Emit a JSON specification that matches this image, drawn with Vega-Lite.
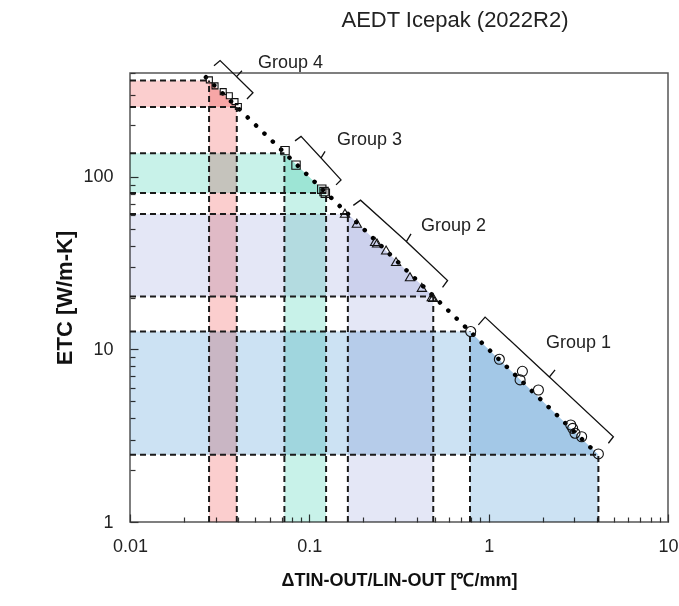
{
  "$schema": "https://vega.github.io/schema/vega-lite/v6.json",
  "width": 538,
  "height": 449,
  "autosize": "none",
  "padding": {"left": 130, "top": 73, "right": 11, "bottom": 84},
  "background": "white",
  "title": {"text": "AEDT Icepak (2022R2)", "fontSize": 22, "fontWeight": "normal", "color": "#222", "anchor": "middle", "dx": 56, "offset": 22},
  "config": {
    "font": "Liberation Sans",
    "view": {"stroke": "#555", "strokeWidth": 1.5},
    "axis": {"grid": false, "domain": false, "tickColor": "#333", "tickWidth": 1.2, "labelColor": "#222", "labelFontSize": 18, "labelFlush": false, "titleColor": "#111", "titleFontWeight": "bold", "zindex": 1}
  },
  "datasets": {
    "hbands": [
      {"group": "4", "y": 254, "x": 0.01, "x2": 0.0394},
      {"group": "4", "y": 362, "x": 0.01, "x2": 0.0276},
      {"group": "3", "y": 80.6, "x": 0.01, "x2": 0.124},
      {"group": "3", "y": 137, "x": 0.01, "x2": 0.0726},
      {"group": "2", "y": 20.3, "x": 0.01, "x2": 0.491},
      {"group": "2", "y": 61, "x": 0.01, "x2": 0.164},
      {"group": "1", "y": 2.45, "x": 0.01, "x2": 4.09},
      {"group": "1", "y": 12.7, "x": 0.01, "x2": 0.787}
    ],
    "vbands": [
      {"group": "4", "x": 0.0276, "y": 1, "y2": 362},
      {"group": "4", "x": 0.0394, "y": 1, "y2": 254},
      {"group": "3", "x": 0.0726, "y": 1, "y2": 137},
      {"group": "3", "x": 0.124, "y": 1, "y2": 80.6},
      {"group": "2", "x": 0.164, "y": 1, "y2": 61},
      {"group": "2", "x": 0.491, "y": 1, "y2": 20.3},
      {"group": "1", "x": 0.787, "y": 1, "y2": 12.7},
      {"group": "1", "x": 4.09, "y": 1, "y2": 2.45}
    ],
    "fit": [{"x": 0.0265, "y": 378}, {"x": 4.1, "y": 2.44}],
    "points": [
      {"group": "4", "x": 0.0277, "y": 365}, {"group": "4", "x": 0.0298, "y": 337}, {"group": "4", "x": 0.0331, "y": 312},
      {"group": "4", "x": 0.0358, "y": 295}, {"group": "4", "x": 0.0385, "y": 273}, {"group": "4", "x": 0.0402, "y": 256},
      {"group": "3", "x": 0.0732, "y": 142}, {"group": "3", "x": 0.0843, "y": 117}, {"group": "3", "x": 0.1173, "y": 84.9},
      {"group": "3", "x": 0.1208, "y": 82.2}, {"group": "3", "x": 0.1228, "y": 80.5},
      {"group": "2", "x": 0.158, "y": 61.6}, {"group": "2", "x": 0.184, "y": 53.9}, {"group": "2", "x": 0.2325, "y": 42.2},
      {"group": "2", "x": 0.2386, "y": 41.4}, {"group": "2", "x": 0.268, "y": 37.7}, {"group": "2", "x": 0.3045, "y": 32.3},
      {"group": "2", "x": 0.364, "y": 26.4}, {"group": "2", "x": 0.424, "y": 22.9}, {"group": "2", "x": 0.4815, "y": 20.2},
      {"group": "2", "x": 0.49, "y": 20.0},
      {"group": "1", "x": 0.794, "y": 12.7}, {"group": "1", "x": 1.147, "y": 8.77}, {"group": "1", "x": 1.542, "y": 7.47},
      {"group": "1", "x": 1.497, "y": 6.66}, {"group": "1", "x": 1.894, "y": 5.82}, {"group": "1", "x": 2.87, "y": 3.65},
      {"group": "1", "x": 2.94, "y": 3.49}, {"group": "1", "x": 3.03, "y": 3.27}, {"group": "1", "x": 3.3, "y": 3.12},
      {"group": "1", "x": 4.09, "y": 2.48}
    ],
    "brackets": [
      {"group": "4", "order": 1, "x": 0.0294, "y": 440}, {"group": "4", "order": 2, "x": 0.0318, "y": 472},
      {"group": "4", "order": 3, "x": 0.0393, "y": 381}, {"group": "4", "order": 4, "x": 0.0421, "y": 412},
      {"group": "4", "order": 5, "x": 0.0393, "y": 381}, {"group": "4", "order": 6, "x": 0.0485, "y": 307},
      {"group": "4", "order": 7, "x": 0.0449, "y": 283},
      {"group": "3", "order": 1, "x": 0.0832, "y": 161.7}, {"group": "3", "order": 2, "x": 0.0899, "y": 171.7},
      {"group": "3", "order": 3, "x": 0.1162, "y": 128.8}, {"group": "3", "order": 4, "x": 0.1224, "y": 140.5},
      {"group": "3", "order": 5, "x": 0.1162, "y": 128.8}, {"group": "3", "order": 6, "x": 0.1502, "y": 96.1},
      {"group": "3", "order": 7, "x": 0.1409, "y": 89.9},
      {"group": "2", "order": 1, "x": 0.1759, "y": 68.4}, {"group": "2", "order": 2, "x": 0.193, "y": 73.3},
      {"group": "2", "order": 3, "x": 0.3475, "y": 42.2}, {"group": "2", "order": 4, "x": 0.369, "y": 46.7},
      {"group": "2", "order": 5, "x": 0.3475, "y": 42.2}, {"group": "2", "order": 6, "x": 0.59, "y": 25.1},
      {"group": "2", "order": 7, "x": 0.553, "y": 22.9},
      {"group": "1", "order": 1, "x": 0.876, "y": 13.87}, {"group": "1", "order": 2, "x": 0.955, "y": 15.4},
      {"group": "1", "order": 3, "x": 2.18, "y": 6.93}, {"group": "1", "order": 4, "x": 2.346, "y": 7.61},
      {"group": "1", "order": 5, "x": 2.18, "y": 6.93}, {"group": "1", "order": 6, "x": 4.96, "y": 3.12},
      {"group": "1", "order": 7, "x": 4.65, "y": 2.86}
    ],
    "labels": [
      {"label": "Group 4", "x": 0.0517, "y": 458},
      {"label": "Group 3", "x": 0.1427, "y": 163.9},
      {"label": "Group 2", "x": 0.4198, "y": 52},
      {"label": "Group 1", "x": 2.09, "y": 10.9}
    ]
  },
  "layer": [
    {
      "data": {"name": "hbands"},
      "mark": {"type": "area", "orient": "horizontal", "blend": "multiply"},
      "encoding": {
        "y": {"field": "y", "type": "quantitative", "scale": {"type": "log", "domain": [1, 400], "nice": false},
          "axis": {"title": "ETC [W/m-K]", "titleFontSize": 22, "titlePadding": 6,
            "values": [1, 2, 3, 4, 5, 6, 7, 8, 9, 10, 20, 30, 40, 50, 60, 70, 80, 90, 100, 200, 300, 400],
            "labelExpr": "datum.value == 1 ? '1' : datum.value == 10 ? '10' : datum.value == 100 ? '100' : ''",
            "tickSize": {"condition": {"test": "datum.value == 1 || datum.value == 10 || datum.value == 100", "value": -8}, "value": -5},
            "labelPadding": 25}},
        "x": {"field": "x", "type": "quantitative", "scale": {"type": "log", "domain": [0.01, 10], "nice": false},
          "axis": {"title": "ΔTIN-OUT/LIN-OUT [℃/mm]", "titleFontSize": 18, "titlePadding": 16,
            "values": [0.01, 0.02, 0.03, 0.04, 0.05, 0.06, 0.07, 0.08, 0.09, 0.1, 0.2, 0.3, 0.4, 0.5, 0.6, 0.7, 0.8, 0.9, 1, 2, 3, 4, 5, 6, 7, 8, 9, 10],
            "labelExpr": "datum.value == 0.01 ? '0.01' : datum.value == 0.1 ? '0.1' : datum.value == 1 ? '1' : datum.value == 10 ? '10' : ''",
            "tickSize": {"condition": {"test": "datum.value == 0.01 || datum.value == 0.1 || datum.value == 1 || datum.value == 10", "value": -8}, "value": -5},
            "labelPadding": 23}},
        "x2": {"field": "x2"},
        "color": {"field": "group", "type": "nominal", "legend": null,
          "scale": {"domain": ["1", "2", "3", "4"], "range": ["#cce2f3", "#e4e7f6", "#c8f2e9", "#fbcece"]}}
      }
    },
    {
      "data": {"name": "vbands"},
      "mark": {"type": "area", "orient": "vertical", "blend": "multiply"},
      "encoding": {
        "x": {"field": "x", "type": "quantitative"},
        "y": {"field": "y", "type": "quantitative"},
        "y2": {"field": "y2"},
        "color": {"field": "group", "type": "nominal", "legend": null}
      }
    },
    {
      "data": {"name": "hbands"},
      "mark": {"type": "rule", "color": "#1a1a1a", "strokeWidth": 2, "strokeDash": [6, 4]},
      "encoding": {
        "y": {"field": "y", "type": "quantitative"},
        "x": {"field": "x", "type": "quantitative"},
        "x2": {"field": "x2"}
      }
    },
    {
      "data": {"name": "vbands"},
      "mark": {"type": "rule", "color": "#1a1a1a", "strokeWidth": 2, "strokeDash": [6, 4]},
      "encoding": {
        "x": {"field": "x", "type": "quantitative"},
        "y": {"field": "y", "type": "quantitative"},
        "y2": {"field": "y2"}
      }
    },
    {
      "data": {"name": "fit"},
      "mark": {"type": "line", "color": "#000", "strokeWidth": 4.5, "strokeCap": "round", "strokeDash": [0.1, 11.5], "clip": false},
      "encoding": {
        "x": {"field": "x", "type": "quantitative"},
        "y": {"field": "y", "type": "quantitative"}
      }
    },
    {
      "data": {"name": "points"},
      "transform": [{"filter": "datum.group == '1'"}],
      "mark": {"type": "point", "shape": "circle", "filled": false, "stroke": "#111", "strokeWidth": 1.1, "size": 100, "opacity": 1},
      "encoding": {"x": {"field": "x", "type": "quantitative"}, "y": {"field": "y", "type": "quantitative"}}
    },
    {
      "data": {"name": "points"},
      "transform": [{"filter": "datum.group == '2'"}],
      "mark": {"type": "point", "shape": "triangle-up", "filled": false, "stroke": "#111", "strokeWidth": 1.1, "size": 85, "opacity": 1},
      "encoding": {"x": {"field": "x", "type": "quantitative"}, "y": {"field": "y", "type": "quantitative"}}
    },
    {
      "data": {"name": "points"},
      "transform": [{"filter": "datum.group == '3'"}],
      "mark": {"type": "point", "shape": "square", "filled": false, "stroke": "#111", "strokeWidth": 1.1, "size": 70, "opacity": 1},
      "encoding": {"x": {"field": "x", "type": "quantitative"}, "y": {"field": "y", "type": "quantitative"}}
    },
    {
      "data": {"name": "points"},
      "transform": [{"filter": "datum.group == '4'"}],
      "mark": {"type": "point", "shape": "square", "filled": false, "stroke": "#111", "strokeWidth": 1.1, "size": 36, "opacity": 1, "clip": false},
      "encoding": {"x": {"field": "x", "type": "quantitative"}, "y": {"field": "y", "type": "quantitative"}}
    },
    {
      "data": {"name": "brackets"},
      "mark": {"type": "line", "color": "#111", "strokeWidth": 1.3, "clip": false},
      "encoding": {
        "x": {"field": "x", "type": "quantitative"},
        "y": {"field": "y", "type": "quantitative"},
        "detail": {"field": "group"},
        "order": {"field": "order", "type": "quantitative"}
      }
    },
    {
      "data": {"name": "labels"},
      "mark": {"type": "text", "align": "left", "baseline": "middle", "fontSize": 18, "color": "#222", "clip": false},
      "encoding": {
        "x": {"field": "x", "type": "quantitative"},
        "y": {"field": "y", "type": "quantitative"},
        "text": {"field": "label"}
      }
    }
  ]
}
